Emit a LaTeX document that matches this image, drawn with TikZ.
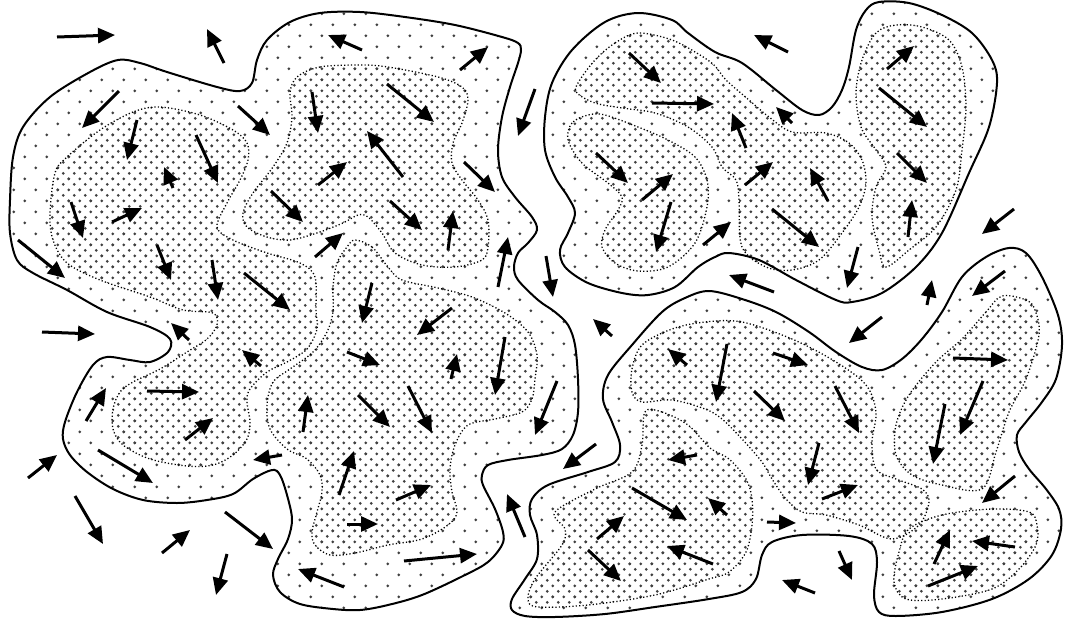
\documentclass[tikz,border=0pt]{standalone}
\usetikzlibrary{arrows.meta}
\tikzset{
  outerline/.style={draw=black,line width=2pt},
  innerline/.style={draw=black,line width=1.3pt,dash pattern=on 1.2pt off 2.2pt},
  sparserow/.style={draw=black!75,line width=3pt,line cap=round,dash pattern=on 0pt off 22pt},
  denserow/.style={draw=black!75,line width=3pt,line cap=round,dash pattern=on 0pt off 11pt},
  flow/.style={line width=3pt,-{Triangle[length=17pt,width=15pt]}},
  pL/.style={insert path={plot[smooth cycle,tension=0.55] coordinates {(118,60) (90,72) (50,97) (23,127) (13,157) (10,200) (10,233) (17,260) (33,273) (67,290) (107,312) (150,327) (170,339) (168,352) (150,362) (130,360) (107,357) (93,365) (77,392) (65,422) (63,439) (70,455) (87,472) (113,489) (143,500) (177,503) (207,500) (233,494) (253,479) (272,470) (280,475) (287,495) (292,519) (288,539) (278,559) (273,575) (280,592) (300,604) (333,609) (360,610) (388,605) (422,595) (465,575) (488,562) (502,545) (503,532) (495,509) (483,485) (482,475) (488,465) (508,460) (542,455) (562,449) (573,435) (578,412) (578,379) (575,345) (568,325) (555,312) (538,300) (518,280) (514,267) (518,253) (528,243) (537,230) (532,217) (515,197) (502,177) (498,150) (502,117) (510,87) (518,63) (521,50) (518,43) (502,37) (455,25) (405,17) (360,12) (320,13) (290,22) (267,40) (257,60) (252,83) (240,91) (217,87) (167,72) (140,63)}}},
  pTR/.style={insert path={plot[smooth cycle,tension=0.55] coordinates {(638,13) (605,22) (572,50) (552,83) (545,117) (545,150) (555,177) (568,197) (575,213) (568,233) (560,250) (565,267) (588,283) (622,293) (648,295) (675,287) (698,267) (715,257) (729,253) (759,260) (796,280) (836,300) (852,302) (882,293) (916,267) (942,233) (969,173) (989,127) (997,83) (992,60) (972,33) (942,15) (909,3) (879,2) (866,10) (856,30) (849,67) (842,90) (832,107) (819,115) (802,110) (776,90) (742,63) (715,52) (688,33) (672,20)}}},
  pBR/.style={insert path={plot[smooth cycle,tension=0.55] coordinates {(662,312) (632,345) (608,375) (603,399) (612,422) (620,445) (615,462) (588,472) (548,485) (532,499) (530,515) (537,535) (537,559) (525,579) (512,599) (512,610) (525,616) (555,617) (605,614) (655,607) (709,599) (742,592) (756,579) (762,555) (772,542) (802,535) (849,536) (872,544) (877,562) (874,595) (879,612) (896,616) (942,612) (992,599) (1029,579) (1052,555) (1061,529) (1059,509) (1046,489) (1029,469) (1019,452) (1017,435) (1026,422) (1042,402) (1056,379) (1062,345) (1058,315) (1042,277) (1026,253) (1009,248) (986,257) (962,277) (942,312) (922,339) (902,359) (882,370) (862,367) (836,352) (809,332) (776,312) (742,299) (709,291) (685,298)}}},
  pA/.style={insert path={plot[smooth cycle,tension=0.55] coordinates {(160,107) (133,112) (100,130) (67,157) (55,173) (50,213) (53,240) (67,263) (100,280) (150,297) (183,310) (213,313) (217,325) (207,339) (187,352) (160,369) (133,382) (120,392) (113,409) (113,429) (123,445) (150,459) (187,466) (213,465) (233,455) (247,439) (250,422) (247,402) (250,389) (267,372) (287,362) (307,349) (317,329) (316,311) (315,277) (300,263) (267,253) (233,240) (217,227) (227,203) (240,180) (248,160) (247,143) (233,130) (200,115)}}},
  pC/.style={insert path={plot[smooth cycle,tension=0.55] coordinates {(360,65) (320,67) (297,77) (290,93) (292,117) (287,143) (273,167) (253,193) (243,213) (247,227) (267,237) (290,240) (317,233) (343,223) (358,215) (368,217) (382,233) (395,253) (422,265) (455,267) (482,260) (488,247) (488,220) (478,200) (462,180) (452,163) (453,143) (462,123) (468,100) (462,87) (438,77) (388,67)}}},
  pD/.style={insert path={plot[smooth cycle,tension=0.55] coordinates {(355,240) (372,247) (388,267) (402,280) (438,288) (472,297) (505,313) (528,332) (537,355) (535,379) (532,399) (522,412) (495,419) (468,425) (455,445) (450,469) (452,492) (457,512) (448,525) (422,539) (388,545) (355,553) (330,555) (315,545) (312,532) (317,512) (322,492) (320,475) (307,459) (287,449) (270,429) (267,405) (273,382) (290,369) (313,352) (327,332) (333,312) (333,287) (337,263) (347,247)}}},
  pE/.style={insert path={plot[smooth cycle,tension=0.55] coordinates {(588,115) (572,123) (568,140) (582,163) (608,183) (622,197) (618,210) (605,230) (602,247) (615,263) (638,271) (668,267) (695,243) (707,207) (707,180) (695,157) (668,140) (638,127) (605,115)}}},
  pF/.style={insert path={plot[smooth cycle,tension=0.55] coordinates {(638,33) (615,43) (595,60) (578,83) (577,93) (595,103) (622,108) (655,113) (688,127) (712,147) (722,167) (736,180) (739,200) (742,247) (766,267) (792,270) (819,260) (842,233) (859,207) (866,183) (862,160) (849,143) (826,133) (792,132) (769,117) (749,100) (726,80) (715,66) (700,55) (672,40)}}},
  pG/.style={insert path={plot[smooth cycle,tension=0.55] coordinates {(896,25) (876,33) (862,60) (856,93) (861,127) (876,150) (886,167) (876,187) (872,217) (879,250) (886,267) (909,250) (936,227) (956,190) (962,150) (966,107) (962,67) (949,40) (922,27)}}},
  pH/.style={insert path={plot[smooth cycle,tension=0.55] coordinates {(632,392) (632,369) (642,345) (672,329) (705,322) (742,322) (792,339) (836,362) (866,385) (876,412) (872,442) (876,469) (896,479) (922,489) (929,502) (919,525) (892,539) (859,525) (826,515) (802,512) (786,499) (772,479) (762,462) (742,439) (722,419) (705,409) (672,400) (642,402)}}},
  pI/.style={insert path={plot[smooth cycle,tension=0.55] coordinates {(645,412) (662,412) (688,425) (710,448) (729,459) (746,479) (752,499) (752,525) (746,552) (729,572) (709,579) (655,595) (588,605) (538,607) (528,599) (535,579) (562,545) (565,529) (555,512) (595,489) (632,472) (642,445)}}},
  pJ/.style={insert path={plot[smooth cycle,tension=0.55] coordinates {(1002,296) (986,312) (962,339) (936,362) (909,395) (896,425) (896,455) (912,475) (942,485) (982,489) (996,452) (1009,412) (1026,379) (1039,335) (1035,310) (1026,300)}}},
  pK/.style={insert path={plot[smooth cycle,tension=0.55] coordinates {(909,529) (942,515) (992,509) (1029,512) (1037,525) (1036,545) (1019,569) (992,589) (942,599) (906,599) (894,582) (899,552)}}},
}
\begin{document}
\begin{tikzpicture}[x=1pt,y=-1pt]
\useasboundingbox[fill=white] (0,0) rectangle (1069,624);
% sparse dots in the outer blobs (rows of round dots)
\begin{scope}
\clip[pL,pTR,pBR];
\foreach \r in {0,...,56} {
  \pgfmathsetmacro\yy{2.75+\r*11}
  \pgfmathsetmacro\xo{mod(\r,2)*11+2.75}
  \draw[sparserow] (\xo,\yy) -- (1069,\yy);
}
\end{scope}
% dense dots in the inner regions
\begin{scope}
\clip[pA,pC,pD,pE,pF,pG,pH,pI,pJ,pK];
\foreach \r in {0,...,113} {
  \pgfmathsetmacro\yy{2.75+\r*5.5}
  \pgfmathsetmacro\xo{mod(\r,2)*5.5+2.75}
  \draw[denserow] (\xo,\yy) -- (1069,\yy);
}
\end{scope}
% outlines
\draw[outerline,pL];
\draw[outerline,pTR];
\draw[outerline,pBR];
\draw[innerline,pA];
\draw[innerline,pC];
\draw[innerline,pD];
\draw[innerline,pE];
\draw[innerline,pF];
\draw[innerline,pG];
\draw[innerline,pH];
\draw[innerline,pI];
\draw[innerline,pJ];
\draw[innerline,pK];
% arrows
\foreach \ax/\ay/\bx/\by in {
 57/37/115/35, 224/63/207/29, 362/50/328/35, 460/70/488/47, 535/89/518/136,
 788/52/754/35, 629/53/661/83, 652/103/714/104, 887/69/914/46, 879/88/927/127,
 119/91/82/128, 238/106/270/135, 137/120/127/160, 196/135/218/183, 173/188/164/167,
 312/92/318/133, 318/185/347/162, 71/202/83/238, 112/222/142/208, 271/191/303/222,
 18/240/65/278, 157/245/171/280, 212/260/218/300, 244/273/290/310, 315/257/343/233,
 387/84/434/122, 403/177/367/131, 464/162/495/192, 390/201/422/230, 448/250/453/211,
 498/287/508/237, 546/256/553/297,
 596/153/628/183, 642/200/673/174, 671/202/656/252, 703/245/731/222,
 792/123/776/107, 746/148/732/113, 745/185/773/162, 828/201/810/168, 772/209/819/247,
 897/153/927/183, 908/237/912/200, 858/247/847/288, 1014/209/982/234, 774/292/729/275,
 927/305/932/280, 1005/271/972/296,
 42/332/95/334, 189/340/171/323, 261/366/242/350, 147/391/199/392, 86/421/106/388,
 185/440/213/418, 303/432/308/395, 282/455/253/460, 28/478/57/455, 98/450/153/483,
 339/495/354/451, 75/496/103/544, 162/553/190/530, 225/512/273/549, 227/554/216/595,
 344/587/298/569, 347/524/378/524,
 372/283/362/323, 452/308/417/335, 347/352/380/365, 451/379/457/354, 505/337/495/395,
 358/395/390/427, 408/386/432/433, 557/381/535/435, 396/500/431/485, 404/561/477/554,
 525/537/507/494, 596/444/563/469, 612/336/593/319, 687/365/668/349, 697/455/668/460,
 632/488/687/520, 727/515/708/498, 597/539/624/516, 588/550/621/581, 713/564/667/546,
 882/317/849/343, 727/344/716/402, 773/353/808/365, 754/391/785/421, 835/386/859/433,
 819/443/808/485, 822/499/858/485, 953/358/1008/360, 945/404/933/464, 983/381/960/435,
 1015/476/982/503, 767/522/796/523, 839/551/852/580, 815/593/782/580, 934/564/950/530,
 1015/547/972/541, 928/586/978/566}
 {\draw[flow] (\ax,\ay) -- (\bx,\by);}
\end{tikzpicture}
\end{document}
